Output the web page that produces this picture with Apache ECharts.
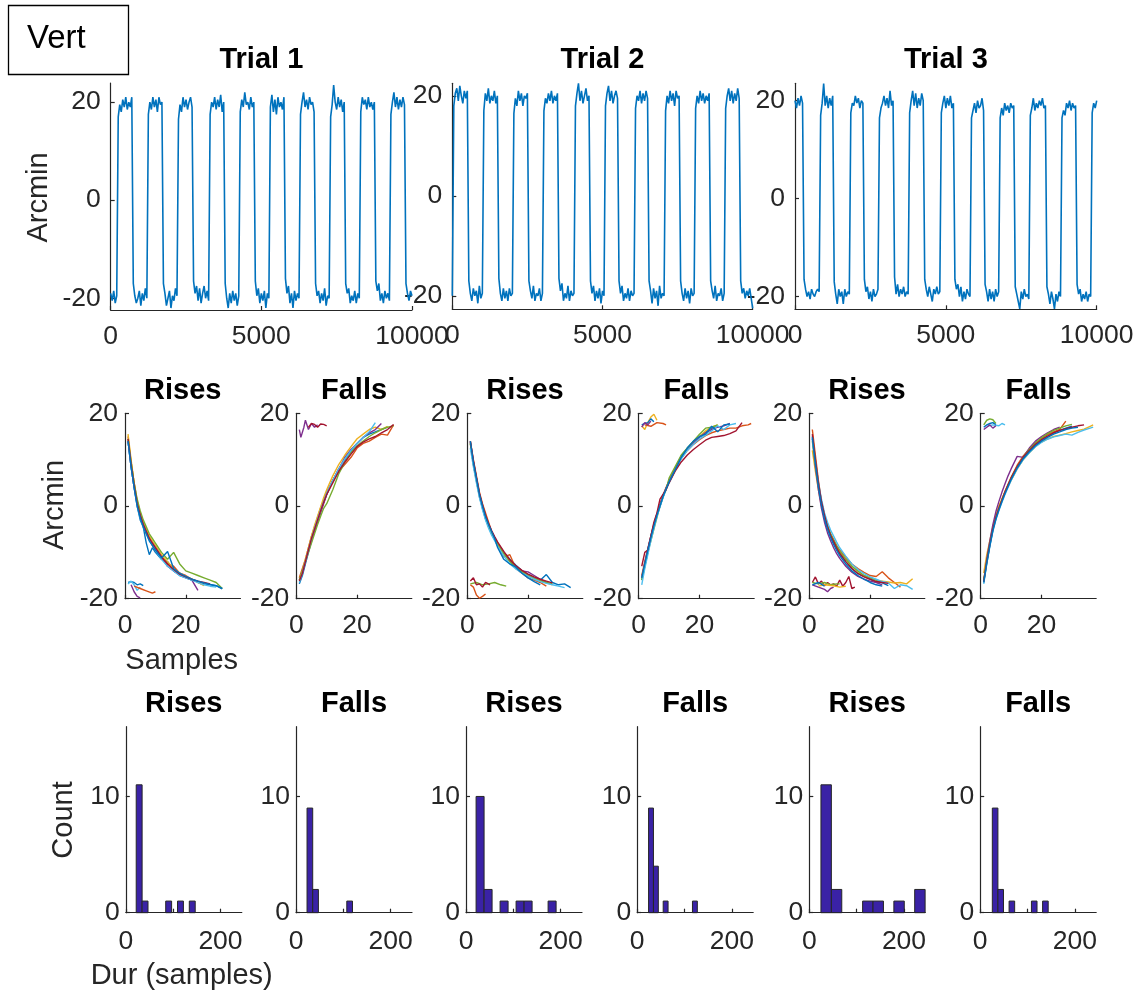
<!DOCTYPE html>
<html><head><meta charset="utf-8">
<script src="https://cdn.jsdelivr.net/npm/echarts@6.0.0/dist/echarts.min.js"></script>
<style>html,body{margin:0;padding:0;background:#fff}#c{width:1140px;height:998px}</style>
</head><body><div id="c"></div>
<script>
// ---------------- DATA ----------------
const SAMPLE_STEP = 50; // trial traces sampled every 50 samples
const trialTitles = ['Trial 1', 'Trial 2', 'Trial 3'];
const trialYRange = [[-22.4, 23.9], [-22.7, 22.5], [-22.6, 23.55]];
const trial1 = [-19,-20.5,-18.5,-21,-19.5,
17,19.5,18,20.5,19,21,18.5,20,19,21,
-17,-19.5,-21,-20,-18.5,-21.5,-19,-20.5,-18,-20,
17.5,20,18.5,21,19,20.5,18,21,19.5,20,
-17,-19,-21.5,-20,-18.5,-22,-19.5,-20.5,-18,-19.5,
16.5,19.5,18,21,19,20.5,18.5,20,21,19,
-16.5,-19,-17.5,-20.5,-18,-21,-19,-17.5,-20,-18.5,-20.5,
17.5,20,19,21,18.5,20.5,19,21.5,18,20,
-17,-20,-22,-19,-21,-18.5,-20.5,-19,-21.5,-19.5,
18,20.5,19,22,19.5,20,18.5,21,19,20,
-16.5,-19.5,-18,-21,-19,-20.5,-18.5,-22,-19,-20,
19,21.5,18,20.5,17.5,21,19,20,18.5,21,
-16,-19,-17.5,-21,-19,-22,-18.5,-20.5,-19,-20,
17.5,20,22,19,20.5,18.5,21,19.5,20,18,
-17,-19.5,-18.5,-21,-19,-20.5,-18,-21.5,-19.5,-20,
17,19.5,23.5,20,18.5,21,19,20.5,18,20,
-17,-19,-18,-21,-19.5,-20.5,-18.5,-21,-19,-20,
18,21,19.5,20.5,18.5,21,19,20,18.5,20,
-16.5,-18.5,-17,-20.5,-19,-21,-18.5,-20,-19,-20.5,
17.5,20,22,19,21,18.5,20.5,19,21,19.5,
-17,-19,-20.5,-18.5,-19.5];
const trial2 = [-20,
18,20.5,21.5,19,22,20,18.5,21,19.5,21,
-17,-19.5,-21,-18.5,-20,-19,-21.5,-18,-20.5,-19.5,
17,20.5,19,21.5,18.5,20,19,21,18.5,20,
-16.5,-19.5,-21,-18.5,-20.5,-19,-21,-18.5,-20,-19.5,
16.5,19.5,18,21,19,20.5,18,20,19.5,20.5,
-17,-19,-20.5,-18,-21,-19.5,-20,-18.5,-21,-19.5,
17,19.5,18.5,20.5,19,21,18.5,20,19,20.5,
-16.5,-19,-17.5,-21,-19.5,-20.5,-18,-21,-19,-20,-19.5,
18,20.5,22.5,19,21,18.5,20,21.5,19,20,
-17,-19.5,-18,-21,-19,-20.5,-18.5,-21.5,-19,-20,
18,20.5,22,19,21,18.5,20,21,19.5,
-17,-19.5,-18,-21,-19.5,-20.5,-18.5,-21,-19,-20,-19.5,
17.5,20,19,21,18.5,20.5,19,21,19.5,
-17,-19,-21.5,-18.5,-20.5,-19,-22,-18,-20.5,-19.5,-20,
17,20,18.5,21,19,20.5,18,21,19.5,20,
-17,-19.5,-21,-18.5,-20.5,-19,-21.5,-18.5,-20,-19.5,
17.5,20,18.5,21,19,20.5,18.5,20,19,20.5,
-17,-19,-20.5,-18,-21,-19.5,-20,-18.5,-21,-19.5,
17.5,20,21.5,19,21,18.5,20.5,19,21.5,19.5,
-17,-19.5,-18.5,-20.5,-19,-20,-18.5,-20.5,-22.5];
const trial3 = [20,18.5,20.5,19,21,19.5,
-16.5,-18.5,-20,-19,-20.5,-18.5,-19.5,-20,-19,-18.5,-19,
17,19.5,23.5,19,21,18.5,20.5,19,21,
-17,-19.5,-21.5,-18.5,-20,-19,-21.5,-18.5,-20,-19,-19.5,
17.5,19.5,19,21,19.5,20.5,18.5,20,19.5,
-16.5,-19,-18,-20.5,-19,-21,-18.5,-20,-19.5,-18.5,
16.5,18.5,19.5,21,19,20.5,18.5,22,19,20,
-16,-19.5,-17.5,-20,-18.5,-19.5,-18,-20,-19,-19.5,
17.5,20,22,19,21.5,18.5,20.5,19,21.5,20,
-16.5,-18.5,-20,-18,-19.5,-21,-18.5,-19.5,-18,-19.5,-19,
17.5,19.5,21,18.5,20.5,19,21,18.5,19.5,
-16.5,-18.5,-17.5,-20,-18,-21,-19,-20.5,-18.5,-19.5,-20,
16.5,18,19.5,17.5,20,18.5,19,20.5,18,
-17.5,-19,-21,-18.5,-20.5,-19,-21,-18.5,-20,-19,
16.5,18.5,17,19.5,18,19,17.5,19.5,18.5,19,
-18,-19.5,-21,-22.5,-19,-20.5,-18.5,-20,-19.5,-20.5,
17,18.5,20.5,18,19.5,18.5,20,19,20.5,18.5,19,
-18,-19.5,-21.5,-19,-20.5,-22.5,-19.5,-21,-19,-20,
16.5,18,17,19.5,18.5,20,18,19.5,18.5,19,
-17.5,-19.5,-18.5,-21,-19.5,-20.5,-19,-21,-19.5,-20,
17.5,19.5,18.5,20];

// transition curves: y values at the sample numbers in curveX (each curve uses a prefix)
const curveX = [1,2,3,4,5,6,7,8,9,10,12,14,16,18,20,22,24,26,28,30,32,34,36,37];
const rises1 = [
[14,8.5,4,0,-3,-4.5,-8,-10.5,-9,-10,-11.5,-12,-14,-15,-15.5,-16,-16.3,-16.8,-17,-17.2,-17.9],
[15,9.5,5,1,-2,-4,-6,-7,-8.5,-9.5,-11,-12.5,-13,-14.5,-15,-15.8,-16.5,-17],
[15.5,10,5,1,-1.5,-3.5,-5,-6.5,-7.5,-8.5,-10.5,-12,-13.5,-14.5,-15.2,-15.8,-16.5,-17.2],
[14,8.5,4,0.5,-2,-4,-5.5,-7,-8,-9,-11,-13,-14,-14.8,-15.3,-16,-18.2],
[14.5,9.5,5,1.5,-1,-3,-4.5,-6,-7,-8,-10,-11.5,-10,-12.5,-14,-14.5,-15,-15.5,-16,-16.5,-17.8],
[14,8.5,4,0,-2.5,-4.5,-6,-7.5,-8.5,-9.5,-11.5,-13,-14,-15,-15.5,-16,-16.5,-17,-17.3,-17.5],
[14.5,9,4.5,0.5,-2,-4,-5.5,-7,-8,-9,-11,-12.5,-13.7,-14.7,-15.3,-15.8,-16.2,-16.5,-16.8],
[14,8.5,4,0,-2.5,-4.5,-6,-7.5,-8.5,-9.5,-11.2,-9.8,-13.5,-14.5,-15.2,-15.8,-16.2,-16.6,-16.9,-17.2,-17.8]
];
const rises1Short = [
[[1,-16.5],[2,-16.3],[3,-16.5],[4,-17],[5,-16.8],[6,-17.2]],
[[1,-16.8],[2,-16.2],[3,-17],[4,-18.2],[5,-17.5]],
[[2,-17],[3,-18.5],[4,-19.5],[5,-19.8]],
[[3,-17.3],[5,-17.8],[7,-18.3],[9,-18.8],[10,-18.5]]
];
const falls1 = [
[-16.8,-15,-12.5,-10,-7.5,-5,-3,-1,0.8,2.5,5.5,8,10,11.8,13.5,14.8,15.5,16,16.5,17],
[-15.5,-13.5,-11.5,-9,-6.5,-4.5,-2.5,-0.5,1.2,3,5.5,7.5,9,10.5,12.5,13.5,14,14.8,15.5,15.3,17.5],
[-16,-14,-11.5,-9,-6.5,-4.2,-2.2,-0.2,1.8,3.5,6.5,9,11,12.8,14.5,15.5,16.5,17,16.5,17.2],
[-16,-14.5,-12,-9.5,-7.5,-5.5,-3.5,-1.5,0.5,2.5,5.5,8,10.5,12.2,13.5,14.8,15.8,16.5,17.8],
[-16,-14,-12,-10,-8,-6,-4,-2.2,-0.5,0.5,3.5,7,9.5,11.5,13,14,15,15.8,16.5,17,17.3],
[-16.5,-14.5,-12,-9.5,-7,-4.8,-2.8,-0.8,1,2.8,5.5,8,10.2,12,13.5,14.8,16,18],
[-16.2,-14.5,-12,-9.5,-7,-5,-3,-1,0.8,2.5,5,7.5,9.5,11.2,12.8,13.8,14.5,15,15.8,16.5,17.6]
];
const falls1Short = [
[[1,16.5],[1.5,14.8],[2.5,17],[3,18.5],[4,16.5],[5,17.8],[6,17],[7,17.5]],
[[4,17],[5,17.8],[6,17.6],[7,17],[8,17.7],[9,17.6],[10,17.3]]
];
const rises2 = [
[13.5,9,5.5,2,-0.5,-2.8,-4.5,-6,-7.2,-8.3,-10,-11.5,-12.8,-14,-14.8,-15.5,-16,-14.8,-16.5,-17,-16.8,-17.6],
[14,10,6.5,3,0.5,-1.5,-3.5,-5.5,-7,-8.5,-11,-10.5,-13.5,-14.5,-15.5,-16,-16.5,-17.3],
[13.5,9.2,5.8,2.3,0,-2.4,-4.2,-5.8,-7,-8.2,-10.2,-12,-13.3,-14.2,-15,-15.6,-16,-16.5,-17],
[13.8,9.5,6,2.5,0,-2.3,-4,-5.5,-6.8,-8,-10,-11.8,-13,-14,-14.2,-15,-15.8,-16.5],
[13.5,9,5.5,2.2,-0.2,-2.5,-4.3,-5.8,-7,-8.2,-10.3,-12,-13.2,-14.2,-15,-15.6,-16.1,-16.5,-16.8],
[12.5,8.5,5,1.8,-0.8,-3,-4.8,-6.3,-7.5,-8.7,-10.8,-12.5,-13.6,-14.5,-15.2,-15.8,-16.3,-16.7,-17,-17.3,-17.6],
[14,9.8,6.2,2.7,0.2,-2,-3.8,-5.3,-6.6,-7.8,-9.8,-11.6,-12.9,-13.9,-14.7,-15.3,-15.8,-16.2,-16.6],
[14,9.5,6,2.5,0,-2.3,-4,-5.5,-7,-9,-11.5,-12.5,-13.2,-14.5,-15.5,-16.3,-17]
];
const rises2Short = [
[[1,-16.8],[3,-16.5],[5,-17],[7,-16.8],[9,-16.5],[11,-17],[12.8,-17.3]],
[[1,-16.2],[2,-15.5],[3,-17],[4,-16.8],[5,-17.5],[6,-16.5],[7.5,-17]],
[[1,-17],[2,-17.5],[3,-19.2],[4,-19.9],[5,-19.5],[6,-19]]
];
const falls2 = [
[-16,-13,-10,-7,-4.5,-2,0,2,3.8,5.3,8,10.8,12.5,13.8,15,16,16.8,17.2],
[-15,-12,-9.2,-6.5,-4,-1.7,0.3,2.3,4,5.5,8,10.3,12,13.3,14.3,15.2,15.8,16.2,16.5,16.8,16.8,17.3,17.5,17.8],
[-15.5,-12.5,-9.5,-6.8,-4.2,-2,0,2,3.7,5.2,7.8,10.3,12.2,13.7,15,16.2,17,17.5],
[-15.5,-12.3,-9.3,-6.5,-4,-1.7,0.3,2.2,3.8,5.3,7.9,10.4,12.2,13.6,14.8,15.8,16.5,17,17.3,17.8],
[-16,-13,-10,-7.5,-5,-2.5,0,2,3.5,6,8.5,11,12.5,14,15.5,16.8,17,17.5],
[-17,-13.5,-10.5,-7.5,-4.8,-2.3,-0.2,1.8,3.5,5,7.7,10.2,12,13.3,14.5,15.3,16.2,17.3,16.5,17.5,17.8],
[-13,-10,-9.5,-6.5,-3.5,-1.5,1.5,2.5,3.5,5,7.5,9.5,11,12.2,13.2,14.2,14.8,15,15.2,15.6,16.2,18],
[-15.5,-12.5,-9.5,-6.8,-4.3,-2,0,2,3.7,5.2,7.8,10.5,12.5,14,15,15.5,17.2,16,17.5,17.7]
];
const falls2Short = [
[[1,17.3],[2,16.5],[3,18],[4,19.2],[5,19.8],[6,18.5]],
[[1,17.5],[2,17.8],[3,18],[4,18.8],[5,18.2]],
[[2,17.5],[4,17.2],[6,18],[8,17.8],[9,17.5]],
[[1,17],[2,18],[3,17.5],[4,18.3]]
];
const rises3 = [
[15,9.5,4.5,0.5,-2.5,-4.7,-6.5,-8,-9.2,-10.3,-12,-13.5,-14.5,-15.2,-15.8,-16.3,-16.6,-17.2],
[16.5,11,5.5,1,-2,-4.3,-6,-7.2,-8.5,-9.5,-11,-12.5,-13.5,-14.3,-15,-15.2,-14.2,-15.5,-16.5,-17.5],
[12,7.5,3.5,0,-2.5,-4.5,-6.2,-7.5,-8.8,-9.8,-11.5,-13,-14.2,-15,-15.5,-16,-16.2,-16.4,-16.6,-16.5,-16.8,-15.7],
[14.5,8.5,3.5,-0.5,-3.5,-5.8,-7.5,-9,-10.3,-11.3,-13,-14.3,-15.2,-15.8,-16.2,-16.5,-17],
[14,9,4.5,0.8,-2,-4.3,-6,-7.4,-8.6,-9.7,-11.5,-13,-14,-15,-15.5,-16,-16.5],
[14.5,9.5,5,1.5,-1.5,-3.5,-5.2,-6.5,-7.8,-9,-10.8,-12.5,-13.7,-14.6,-15.3,-15.8,-16.3,-16.6,-17.8,-17,-17.2,-18],
[15.5,10,5,1,-2,-4.5,-6.3,-7.7,-9,-10.2,-12,-13.5,-14.6,-15.3,-15.8,-16.3,-16.5,-16.7],
[14.8,9.2,4.2,0.2,-2.8,-5,-6.8,-8.3,-9.6,-10.7,-12.5,-14,-15,-15.8,-16.5,-17,-17.3]
];
const rises3Short = [
[[1,-16.5],[2,-15.3],[3,-16.8],[4,-16.2],[5,-17.2],[6,-16.5],[7,-17],[8,-16.8],[9,-17.3],[10,-16],[11,-17.3],[12,-16.5],[13,-15.2],[14,-17.8],[15,-17.5]],
[[1,-17],[3,-17.5],[5,-18],[6,-18.5],[7,-17.8],[8,-17.5]],
[[1,-16.5],[3,-16.8],[5,-16.5],[7,-17],[9,-16.8],[10,-16.8]],
[[3,-17.3],[5,-17],[8,-17.2],[10,-17.5],[12,-17.3]],
[[1,-17],[3,-16.5],[5,-17.3]]
];
const falls3 = [
[-16.5,-12.3,-8.5,-5.2,-2.7,-0.7,1.1,2.8,4.3,5.8,8.3,10.3,11.8,13.1,14.2,15,15.8,16.3,16.8,17.2],
[-16,-11.8,-8,-4.8,-2.3,-0.3,1.5,3.2,4.7,6.2,8.8,10.8,12.3,13.6,14.6,15.4,16,16.5,18.3],
[-14.5,-10.5,-7.5,-4.5,-2,0,1.5,3,4.3,5.5,8,10,11.5,12.8,13.8,14.5,15,15.3,15.6,16,16.3,16.6,17.2,17.5],
[-16.3,-11.5,-7.5,-4,-1.2,1,3,4.8,6.5,8,10.7,10.5,12.5,14,15,15.8,16.5,17],
[-16,-12,-8.2,-5,-2.5,-0.5,1.3,3,4.5,6,8.5,10.5,12.2,13.6,14.7,15.6,16.3,16.8,17.3,17.6],
[-16.8,-12.5,-8.8,-5.5,-3,-1,0.8,2.5,4,5.5,8,10,11.5,12.8,13.7,14.4,14.9,15.2,15.5,15.3,15.9,16.4,16.8,17],
[-16.3,-12,-8.3,-5,-2.5,-0.5,1.3,3,4.5,6,8.5,10.5,12,13.3,14.3,15.1,15.8,16.3,16.7,17,17.3,17.5],
[-16.5,-12.3,-8.6,-5.3,-2.8,-0.8,1,2.7,4.2,5.7,8.2,10.2,11.7,13,14,14.8,15.5,16,16.5,16.8,17]
];
const falls3Short = [
[[1,17.5],[2,18.5],[3,18.8],[4,18.6],[5,17.8]],
[[1,17],[2,17.5],[3,17.8],[4,18],[5,17.5]],
[[2,17.2],[4,17.5],[6,17.3],[7,17.8],[8,17.5]],
[[1,16.5],[2,17],[3,17.5],[4,16.8],[5,17.3]]
];

// histograms of durations (samples)
const histBinStart = [22, 23.3, 21.3, 24, 24.6, 25.6];
const histBinWidth = [12.46, 12, 16.9, 10.3, 22, 11.8];
const histRises1 = [11,1,0,0,0,1,0,1,0,1];
const histFalls1 = [9,2,0,0,0,0,0,1];
const histRises2 = [10,2,0,1,0,1,1,0,0,1];
const histFalls2 = [9,4,0,1,0,0,0,0,0,1];
const histRises3 = [11,2,0,0,1,1,0,1,0,2];
const histFalls3 = [9,2,0,1,0,0,0,1,0,1];
const panelTitles = ['Rises', 'Falls', 'Rises', 'Falls', 'Rises', 'Falls'];

// ---------------- STYLE / LAYOUT ----------------
const FONT = '"Liberation Sans", Arial, Helvetica, sans-serif';
const AX = '#262626';
const palette = ['#0072BD','#D95319','#EDB120','#7E2F8E','#77AC30','#4DBEEE','#A2142F'];
const shortColors = [[0,5,3,1],[3,6],[4,6,1],[2,0,1,3],[6,3,4,2,0],[4,0,5,3]];
const HIST_FILL = '#3a22a6';

const topLeft = [110.7, 452.3, 795], topWidth = [301.3, 300.4, 301.7];
const topTop = [83, 83.3, 83.3], topHeight = [227, 226, 226];
const midLeft = [125, 296.3, 467.3, 638.7, 809.3, 980.7], midWidth = 115.5, midTop = 413.3, midHeight = 185.4;
const botLeft = [125.8, 296, 466, 637.2, 809.3, 980.2], botWidth = 116, botTop = 726.7, botHeight = 186;

const grids = [], xAxes = [], yAxes = [], series = [], elements = [];

function axisBase(gi, labelMargin, labelVals, tickVals) {
  return {
    type: 'value', gridIndex: gi,
    axisLine: {show: true, onZero: false, lineStyle: {color: AX, width: 1.2}},
    axisTick: {show: true, inside: true, length: 4, lineStyle: {color: AX, width: 1.2}, customValues: tickVals || labelVals},
    splitLine: {show: false},
    axisLabel: {color: AX, fontSize: 26.5, fontFamily: FONT, margin: labelMargin, customValues: labelVals,
      formatter: function (v) { return String(v); }}
  };
}
function title(text, x, y) {
  elements.push({type: 'text', x: x, y: y, silent: true,
    style: {text: text, fontSize: 29, fontWeight: 'bold', fontFamily: FONT, fill: '#000', align: 'center', verticalAlign: 'middle'}});
}
function label(text, x, y, rot) {
  elements.push({type: 'text', x: x, y: y, rotation: rot ? Math.PI / 2 : 0, silent: true,
    style: {text: text, fontSize: 29, fontFamily: FONT, fill: AX, align: 'center', verticalAlign: 'middle'}});
}

// top row: traces
const trials = [trial1, trial2, trial3];
trials.forEach((tr, i) => {
  const gi = grids.length;
  grids.push({left: topLeft[i], top: topTop[i], width: topWidth[i], height: topHeight[i]});
  xAxes.push(Object.assign(axisBase(gi, 13, [0, 5000, 10000]), {min: 0, max: 10000}));
  yAxes.push(Object.assign(axisBase(gi, 10, [-20, 0, 20]), {min: trialYRange[i][0], max: trialYRange[i][1]}));
  series.push({type: 'line', xAxisIndex: gi, yAxisIndex: gi, showSymbol: false, symbol: 'none', silent: true,
    lineStyle: {color: palette[0], width: 1.6},
    data: tr.map((v, k) => [k * SAMPLE_STEP, v])});
  title(trialTitles[i], topLeft[i] + topWidth[i] / 2, 60);
});

// middle row: transitions
const midMain = [rises1, falls1, rises2, falls2, rises3, falls3];
const midShort = [rises1Short, falls1Short, rises2Short, falls2Short, rises3Short, falls3Short];
midMain.forEach((curves, j) => {
  const gi = grids.length;
  grids.push({left: midLeft[j], top: midTop, width: midWidth, height: midHeight});
  xAxes.push(Object.assign(axisBase(gi, 13, [0, 20]), {min: 0, max: 38}));
  yAxes.push(Object.assign(axisBase(gi, 7, [-20, 0, 20]), {min: -20, max: 20}));
  curves.forEach((ys, c) => {
    series.push({type: 'line', xAxisIndex: gi, yAxisIndex: gi, showSymbol: false, symbol: 'none', silent: true,
      lineStyle: {color: palette[c % 7], width: 1.4},
      data: ys.map((y, k) => [curveX[k], y])});
  });
  midShort[j].forEach((pts, c) => {
    series.push({type: 'line', xAxisIndex: gi, yAxisIndex: gi, showSymbol: false, symbol: 'none', silent: true,
      lineStyle: {color: palette[shortColors[j][c]], width: 1.4}, data: pts});
  });
  title(panelTitles[j], midLeft[j] + midWidth / 2, 390.8);
});

// bottom row: histograms
const hists = [histRises1, histFalls1, histRises2, histFalls2, histRises3, histFalls3];
hists.forEach((counts, j) => {
  const gi = grids.length;
  grids.push({left: botLeft[j], top: botTop, width: botWidth, height: botHeight});
  xAxes.push(Object.assign(axisBase(gi, 15, [0, 200], [0, 100, 200]), {min: 0, max: 245}));
  yAxes.push(Object.assign(axisBase(gi, 6, [0, 10]), {min: 0, max: 16}));
  const data = counts.map((n, k) => [histBinStart[j] + k * histBinWidth[j], histBinStart[j] + (k + 1) * histBinWidth[j], n]);
  series.push({type: 'custom', xAxisIndex: gi, yAxisIndex: gi, silent: true,
    encode: {x: [0, 1], y: 2}, data: data,
    renderItem: function (params, api) {
      const n = api.value(2);
      if (!n) return null;
      const p0 = api.coord([api.value(0), n]);
      const p1 = api.coord([api.value(1), 0]);
      return {type: 'rect', shape: {x: p0[0], y: p0[1], width: p1[0] - p0[0], height: p1[1] - p0[1]},
        style: {fill: HIST_FILL, stroke: AX, lineWidth: 1}};
    }});
  title(panelTitles[j], botLeft[j] + botWidth / 2, 704);
});

// labels and the box
label('Arcmin', 39, 197.5, true);
label('Arcmin', 55, 505, true);
label('Samples', 181.7, 660.8, false);
label('Count', 64, 820, true);
label('Dur (samples)', 181.7, 975.8, false);
elements.push({type: 'rect', shape: {x: 8.5, y: 5.5, width: 120, height: 69}, silent: true,
  style: {fill: '#fff', stroke: '#000', lineWidth: 1.3}});
elements.push({type: 'text', x: 27, y: 38.7, silent: true,
  style: {text: 'Vert', fontSize: 33, fontFamily: FONT, fill: '#000', align: 'left', verticalAlign: 'middle'}});

const chart = echarts.init(document.getElementById('c'));
chart.setOption({
  animation: false,
  backgroundColor: '#fff',
  grid: grids, xAxis: xAxes, yAxis: yAxes, series: series,
  graphic: {elements: elements}
});
</script></body></html>
